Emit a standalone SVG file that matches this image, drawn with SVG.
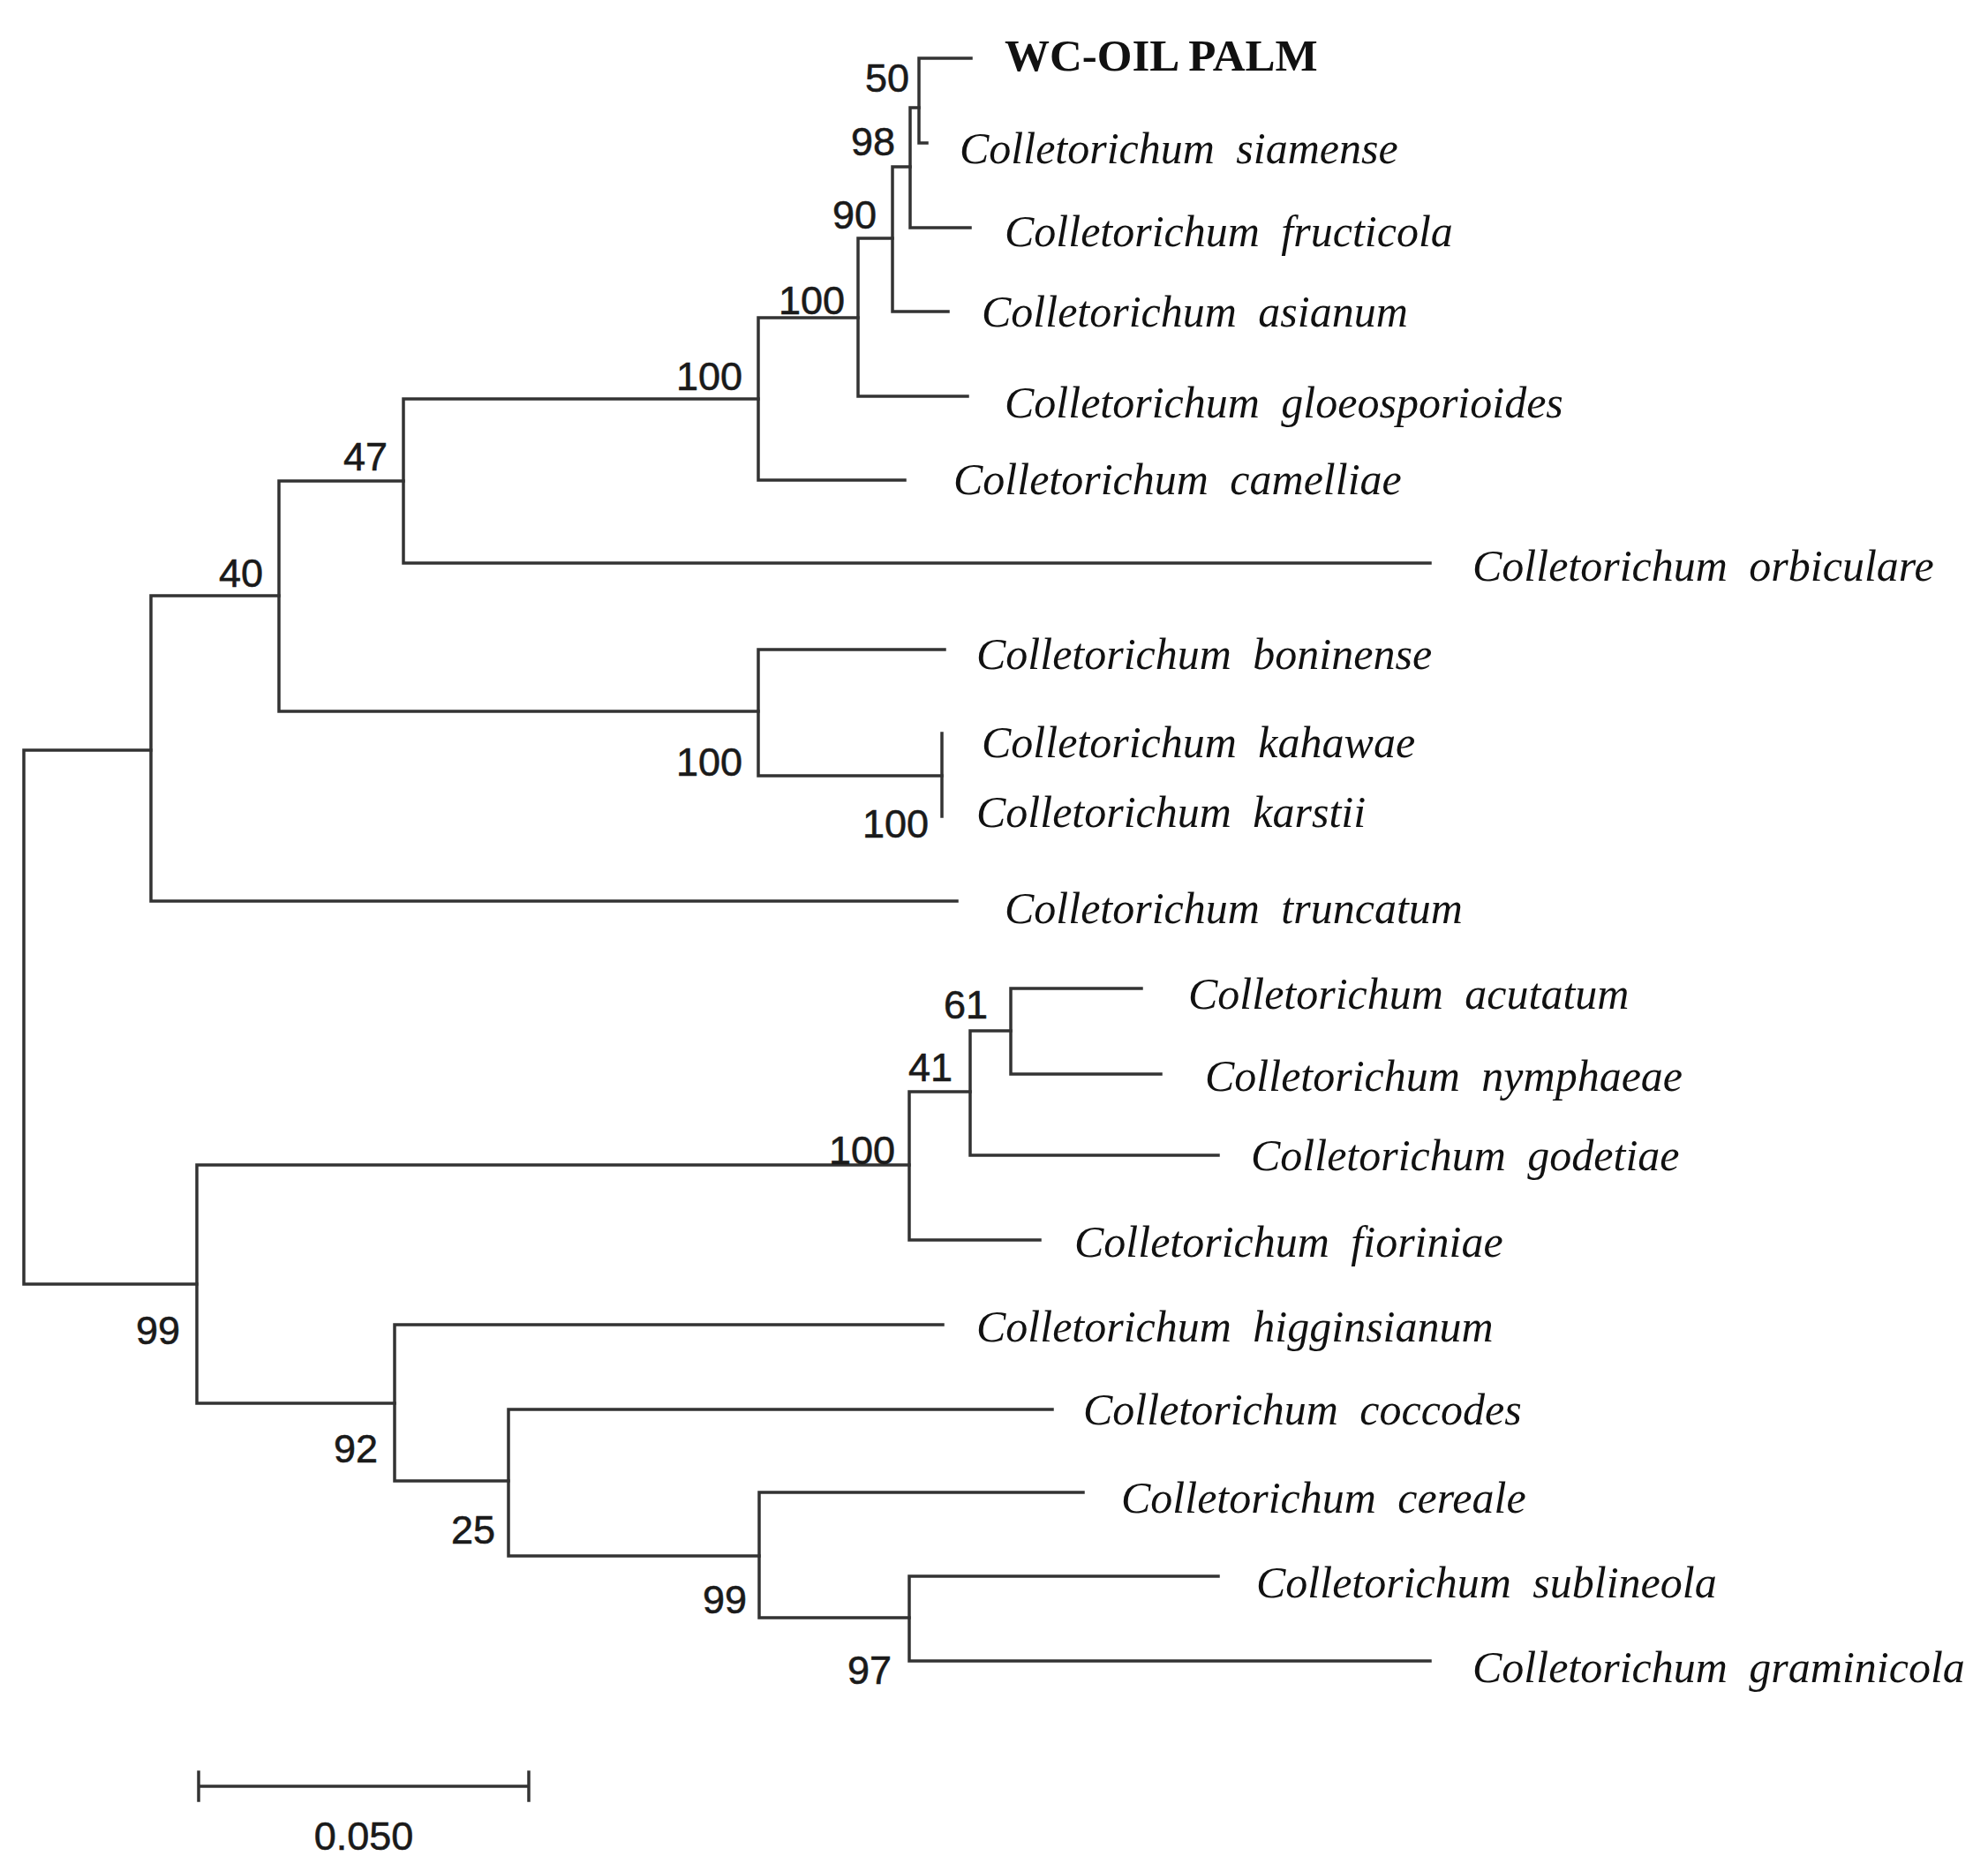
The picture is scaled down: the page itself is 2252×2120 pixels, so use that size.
<svg xmlns="http://www.w3.org/2000/svg" width="2252" height="2120" viewBox="0 0 2252 2120">
<style>
.e{stroke:#333;stroke-width:3.5;fill:none;stroke-linecap:square}
.n{font-family:"Liberation Sans",Arial,sans-serif;font-size:45px;fill:#1a1a1a;text-anchor:end;stroke:#1a1a1a;stroke-width:0.6}
.t{font-family:"Liberation Serif","Times New Roman",serif;font-size:50px;font-style:italic;fill:#111;word-spacing:12px}
.b{font-family:"Liberation Serif","Times New Roman",serif;font-size:51px;font-weight:bold;fill:#111}
</style>
<rect width="2252" height="2120" fill="#fff"/>
<g id="connectors">
<path class="e" d="M27 850V1455M27 850H171M27 1455H223"/>
<path class="e" d="M171 675V1021M171 675H316M171 1021H1084"/>
<path class="e" d="M316 545V806M316 545H457M316 806H859"/>
<path class="e" d="M457 452V638M457 452H859M457 638H1620"/>
<path class="e" d="M859 360V544M859 360H972M859 544H1025"/>
<path class="e" d="M972 270V449M972 270H1011M972 449H1096"/>
<path class="e" d="M1011 189V353M1011 189H1031M1011 353H1074"/>
<path class="e" d="M1031 122V258M1031 122H1041M1031 258H1099"/>
<path class="e" d="M1041 66V162M1041 66H1100M1041 162H1050"/>
<path class="e" d="M859 736V879M859 736H1070M859 879H1067"/>
<path class="e" d="M1067 831V925"/>
<path class="e" d="M223 1320V1590M223 1320H1030M223 1590H447"/>
<path class="e" d="M1030 1237V1405M1030 1237H1099M1030 1405H1178"/>
<path class="e" d="M1099 1168V1309M1099 1168H1145M1099 1309H1380"/>
<path class="e" d="M1145 1120V1217M1145 1120H1293M1145 1217H1315"/>
<path class="e" d="M447 1501V1678M447 1501H1068M447 1678H576"/>
<path class="e" d="M576 1597V1763M576 1597H1192M576 1763H860"/>
<path class="e" d="M860 1691V1833M860 1691H1227M860 1833H1030"/>
<path class="e" d="M1030 1786V1882M1030 1786H1380M1030 1882H1620"/>
</g>
<g id="scale">
<path class="e" d="M225 2024H599M225 2008V2040M599 2008V2040"/>
<text class="n" x="412" y="2096" style="text-anchor:middle">0.050</text>
</g>
<g id="bootstrap">
<text class="n" x="1030" y="104">50</text>
<text class="n" x="1014" y="176">98</text>
<text class="n" x="993" y="259">90</text>
<text class="n" x="957" y="356">100</text>
<text class="n" x="841" y="442">100</text>
<text class="n" x="439" y="533">47</text>
<text class="n" x="298" y="665">40</text>
<text class="n" x="841" y="879">100</text>
<text class="n" x="1052" y="949">100</text>
<text class="n" x="1119" y="1154">61</text>
<text class="n" x="1079" y="1225">41</text>
<text class="n" x="1014" y="1319">100</text>
<text class="n" x="204" y="1523">99</text>
<text class="n" x="428" y="1657">92</text>
<text class="n" x="561" y="1749">25</text>
<text class="n" x="846" y="1828">99</text>
<text class="n" x="1010" y="1908">97</text>
</g>
<g id="taxa">
<text id="wc" class="b" x="1138" y="80">WC-OIL PALM</text>
<text class="t" x="1087" y="185">Colletorichum siamense</text>
<text class="t" x="1138" y="279">Colletorichum fructicola</text>
<text class="t" x="1112" y="370">Colletorichum asianum</text>
<text class="t" x="1138" y="473">Colletorichum gloeosporioides</text>
<text class="t" x="1080" y="560">Colletorichum camelliae</text>
<text class="t" x="1668" y="658">Colletorichum orbiculare</text>
<text class="t" x="1106" y="758">Colletorichum boninense</text>
<text class="t" x="1112" y="858">Colletorichum kahawae</text>
<text class="t" x="1106" y="937">Colletorichum karstii</text>
<text class="t" x="1138" y="1046">Colletorichum truncatum</text>
<text class="t" x="1346" y="1143">Colletorichum acutatum</text>
<text class="t" x="1365" y="1236">Colletorichum nymphaeae</text>
<text class="t" x="1417" y="1326">Colletorichum godetiae</text>
<text class="t" x="1217" y="1424">Colletorichum fioriniae</text>
<text class="t" x="1106" y="1520">Colletorichum higginsianum</text>
<text class="t" x="1227" y="1614">Colletorichum coccodes</text>
<text class="t" x="1270" y="1714">Colletorichum cereale</text>
<text class="t" x="1423" y="1810">Colletorichum sublineola</text>
<text class="t" x="1668" y="1906">Colletorichum graminicola</text>
</g>
</svg>
